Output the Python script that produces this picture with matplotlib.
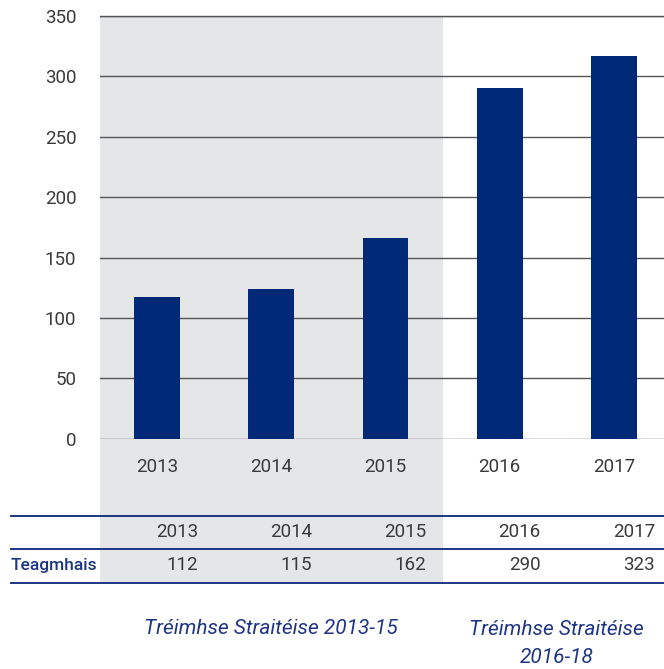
import matplotlib
matplotlib.use("Agg")
import matplotlib.pyplot as plt
from matplotlib import transforms
from matplotlib.lines import Line2D

# ---- data ----
years = ["2013", "2014", "2015", "2016", "2017"]
bar_values = [117, 124, 166, 290, 317]
table_values = [112, 115, 162, 290, 323]
row_label = "Teagmhais"
period_labels = ["Tréimhse Straitéise 2013-15", "Tréimhse Straitéise\n2016-18"]
y_ticks = [0, 50, 100, 150, 200, 250, 300, 350]

# ---- style ----
plt.rcParams["font.family"] = ["Roboto", "DejaVu Sans"]

BAR = "#002a77"
GREY_BG = "#e5e6e8"
BLUE = "#1d3584"
TXT = "#3a3a3a"
FS = 13.5
WT = "normal"

W, H = 664, 669
fig = plt.figure(figsize=(W / 100, H / 100), dpi=100)

def fx(px):
    return px / W

def fy(py):
    return 1 - py / H

ax_left, ax_right, ax_top, ax_bottom = 100, 671, 16, 438.7
ax = fig.add_axes([fx(ax_left), fy(ax_bottom), fx(ax_right - ax_left), (ax_bottom - ax_top) / H])
ax.set_facecolor("none")

x = list(range(len(years)))
ax.bar(x, bar_values, width=0.4, color=BAR, zorder=3)
ax.set_xlim(-0.5, len(years) - 0.5)
ax.set_ylim(0, 350)
ax.set_yticks(y_ticks)
ax.set_yticklabels([str(v) for v in y_ticks], fontweight=WT)
ax.set_xticks(x)
ax.set_xticklabels(years, fontweight=WT)
for s in ax.spines.values():
    s.set_visible(False)
ax.yaxis.grid(True, color="#555555", linewidth=1.0, zorder=1)
ax.set_axisbelow(True)
ax.tick_params(axis="both", length=0, labelsize=FS, labelcolor=TXT)
ax.tick_params(axis="y", pad=17)
ax.tick_params(axis="x", pad=14)
ax.axhline(350, color="#555555", linewidth=1.0, zorder=1, clip_on=False)

# grey band for 2013-15 strategy period, extending down through the table
table_bottom = 582.7
ymin = -(table_bottom - ax_bottom) / (ax_bottom - ax_top)
ax.axvspan(-0.5, 2.5, ymin=ymin, ymax=1, color=GREY_BG, zorder=0, clip_on=False, lw=0)

# ---- table ----
blend = transforms.blended_transform_factory(ax.transData, fig.transFigure)
for yy in [516.3, 549.3, 582.7]:
    fig.add_artist(Line2D([fx(10.7), fx(664)], [fy(yy), fy(yy)], color=BLUE, lw=1.4,
                          transform=fig.transFigure))
for i, (yr, v) in enumerate(zip(years, table_values)):
    fig.text(i + 0.36, fy(532), yr, transform=blend, ha="right", va="center",
             fontsize=FS, color=TXT, fontweight=WT)
    fig.text(i + 0.36, fy(565.5), str(v), transform=blend, ha="right", va="center",
             fontsize=FS, color=TXT, fontweight=WT)
fig.text(fx(10.7), fy(565.5), row_label, ha="left", va="center", fontsize=12.5,
         color=BLUE, fontweight="medium")

# ---- period labels ----
fig.text(1.0, fy(629), period_labels[0], transform=blend, ha="center", va="center",
         fontsize=15, color=BLUE, style="italic")
fig.text(3.5, fy(643.5), period_labels[1], transform=blend, ha="center", va="center",
         fontsize=15, color=BLUE, style="italic", linespacing=1.65)

fig.savefig("out.png", dpi=100)
